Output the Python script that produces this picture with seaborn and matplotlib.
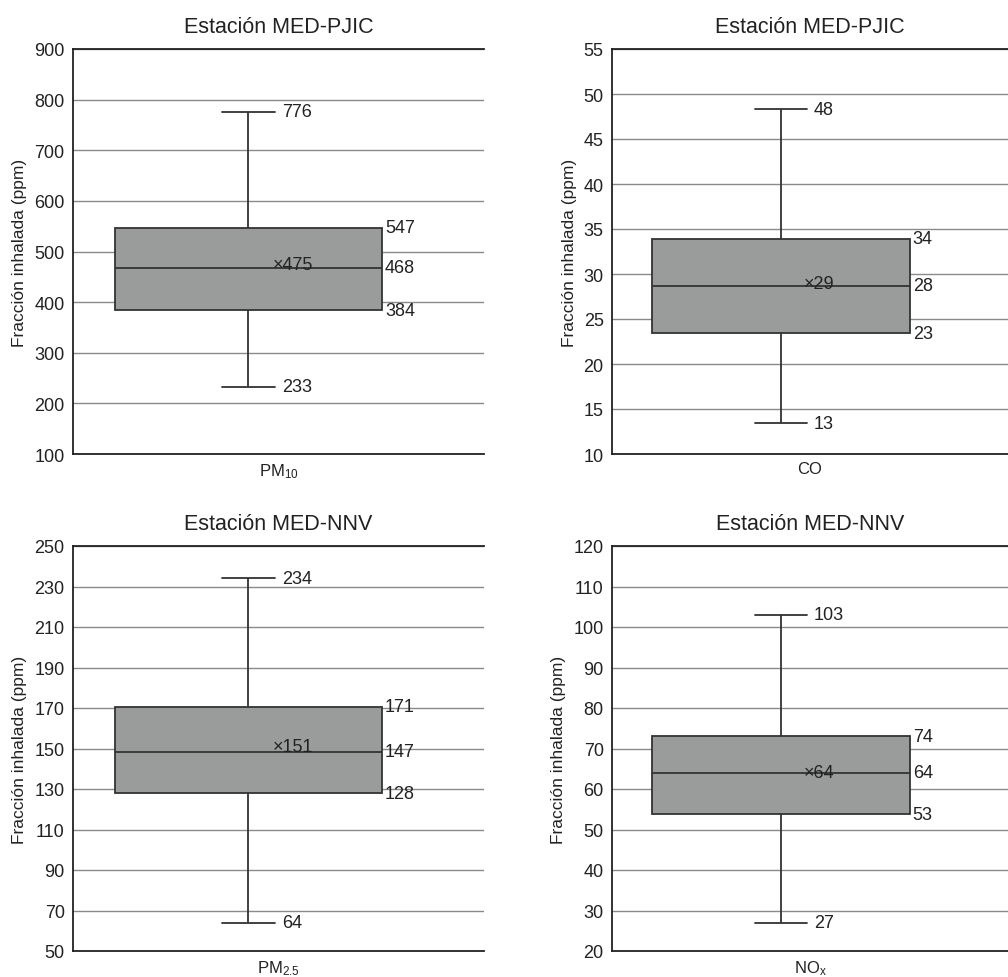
import matplotlib
matplotlib.use("Agg")
import matplotlib.pyplot as plt
import seaborn as sns
import pandas as pd

sns.set_theme(style="white")
plt.rcParams['font.family'] = ['Liberation Sans', 'DejaVu Sans']
plt.rcParams['mathtext.fontset'] = 'custom'
plt.rcParams['mathtext.rm'] = 'Liberation Sans'
plt.rcParams['mathtext.it'] = 'Liberation Sans'
plt.rcParams['mathtext.default'] = 'regular'

# ---- data (five-number summaries + mean) ----
titles = ["Estación MED-PJIC", "Estación MED-PJIC", "Estación MED-NNV", "Estación MED-NNV"]
pollutants = ["PM$_{10}$", "CO", "PM$_{2.5}$", "NO$_{x}$"]
pm10_stats = [233, 384, 468, 547, 776]
co_stats = [13.4, 23.4, 28.7, 33.9, 48.3]
pm25_stats = [64, 128, 148.5, 170.5, 234]
nox_stats = [27, 53.8, 64, 73, 103]
means = [475, 28.9, 151, 64]
mean_labels = ["475", "29", "151", "64"]
stat_labels = [
    ["233", "384", "468", "547", "776"],
    ["13", "23", "28", "34", "48"],
    ["64", "128", "147", "171", "234"],
    ["27", "53", "64", "74", "103"],
]
y_limits = [(100, 900), (10, 55), (50, 250), (20, 120)]
y_steps = [100, 5, 20, 10]
all_stats = [pm10_stats, co_stats, pm25_stats, nox_stats]

fig = plt.figure(figsize=(10.08, 9.78), dpi=100)
W, H = 1008, 978
rects = [
    (73, 50, 411, 405),
    (612, 50, 396, 405),
    (73, 547, 411, 405),
    (612, 547, 396, 405),
]
box_color = "#9a9c9c"
dark = "#333333"
center_frac = 0.427
box_w = 0.65
cap_half = 0.065

for i in range(4):
    x0, y0, w, h = rects[i]
    ax = fig.add_axes([x0 / W, 1 - (y0 + h) / H, w / W, h / H])
    df = pd.DataFrame({"pollutant": [pollutants[i]] * 5, "value": all_stats[i]})
    sns.boxplot(data=df, x="pollutant", y="value", ax=ax, whis=(0, 100),
                width=box_w, color=box_color, saturation=1, linecolor=dark,
                linewidth=1.3, showfliers=False)
    for c in ax.containers:
        for cap in getattr(c, "caps", []):
            cap.set_xdata([-cap_half, cap_half])
            cap.set_zorder(3)
        for wk in getattr(c, "whiskers", []):
            wk.set_zorder(3)
        for b in getattr(c, "boxes", []):
            b.set_zorder(3)
        for m in getattr(c, "medians", []):
            m.set_zorder(4)
            m.set_color(dark)
            m.set_linewidth(1.3)
    ax.set_xlim(-center_frac, 1 - center_frac)
    lo, hi = y_limits[i]
    ax.set_ylim(lo, hi)
    ticks = list(range(lo, hi + 1, y_steps[i]))
    ax.set_yticks(ticks)
    ax.tick_params(axis='y', labelsize=13, length=0, pad=6, colors='#222222')
    ax.set_xticks([])
    ax.set_xlabel(pollutants[i], fontsize=12, labelpad=5, color='#222222')
    ax.set_ylabel("Fracción inhalada (ppm)", fontsize=12.5, color='#222222', labelpad=5)
    ax.set_title(titles[i], fontsize=15.5, pad=12, color='#222222')
    ax.yaxis.grid(True, color='#8a8a8a', lw=1)
    ax.set_axisbelow(True)
    for s in ["left", "bottom", "top"]:
        ax.spines[s].set_color("#222222")
        ax.spines[s].set_linewidth(1.3)
        ax.spines[s].set_visible(True)
    ax.spines["right"].set_visible(False)

    st = all_stats[i]
    lb = stat_labels[i]
    for k in (0, 4):
        ax.annotate(lb[k], xy=(cap_half, st[k]), xytext=(7, 0), textcoords='offset pixels',
                    ha='left', va='center', fontsize=13, color='#222222')
    for k in (1, 2, 3):
        ax.annotate(lb[k], xy=(box_w / 2, st[k]), xytext=(3, 0), textcoords='offset pixels',
                    ha='left', va='center', fontsize=13, color='#222222')
    ax.annotate("×" + mean_labels[i], xy=(0.5, means[i]), xycoords=('axes fraction', 'data'),
                xytext=(-6, 0), textcoords='offset pixels', ha='left', va='center',
                fontsize=13, color='#222222', zorder=5)

fig.savefig("out.png", dpi=100)
